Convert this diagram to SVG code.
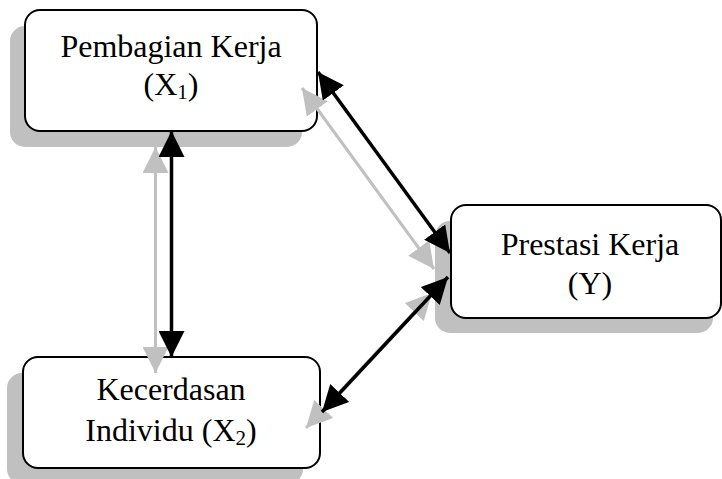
<svg xmlns="http://www.w3.org/2000/svg" width="722" height="479" viewBox="0 0 722 479">
<defs>
<style>
.shadow{fill:#c0c0c0;stroke:none}
.box{fill:#ffffff;stroke:#000000;stroke-width:2}
.lbl{font-family:"Liberation Serif","Times New Roman",serif;font-size:32px;fill:#000000;text-anchor:middle}
.sub{font-size:21px}
.blk{stroke:#000000;stroke-width:3.5;fill:none;marker-start:url(#hb);marker-end:url(#hb)}
.gry{stroke:#c0c0c0;stroke-width:3;fill:none;marker-start:url(#hg);marker-end:url(#hg)}
</style>
<marker id="hb" markerUnits="userSpaceOnUse" viewBox="0 0 26 26" refX="26" refY="13" markerWidth="26" markerHeight="26" orient="auto-start-reverse">
<path d="M0,0 L26,13 L0,26 Z" fill="#000000"/>
</marker>
<marker id="hg" markerUnits="userSpaceOnUse" viewBox="0 0 26 26" refX="26" refY="13" markerWidth="26" markerHeight="26" orient="auto-start-reverse">
<path d="M0,0 L26,13 L0,26 Z" fill="#c0c0c0"/>
</marker>
</defs>
<g id="node-x1">
<rect class="shadow" x="10" y="26" width="292" height="121" rx="15"/>
<rect class="box" x="25" y="10" width="292" height="121" rx="15"/>
<text class="lbl" x="171" y="57">Pembagian Kerja</text>
<text class="lbl" x="171" y="95">(X<tspan class="sub" dy="4">1</tspan><tspan dy="-4">)</tspan></text>
</g>
<g id="node-x2">
<rect class="shadow" x="7" y="373" width="296" height="111" rx="15"/>
<rect class="box" x="23" y="357" width="297" height="111" rx="15"/>
<text class="lbl" x="171" y="400">Kecerdasan</text>
<text class="lbl" x="171" y="441">Individu (X<tspan class="sub" dy="4">2</tspan><tspan dy="-4">)</tspan></text>
</g>
<g id="node-y">
<rect class="shadow" x="435" y="221" width="278" height="112" rx="15"/>
<rect class="box" x="451" y="205" width="270" height="113" rx="15"/>
<text class="lbl" x="590" y="255">Prestasi Kerja</text>
<text class="lbl" x="590" y="294">(Y)</text>
</g>
<g id="connectors">
<line class="gry" x1="155.5" y1="147" x2="155.5" y2="373"/>
<line class="gry" x1="302" y1="88" x2="434" y2="269"/>
<line class="gry" x1="432" y1="293" x2="306" y2="428"/>
<line class="blk" x1="171.5" y1="131" x2="171.5" y2="357"/>
<line class="blk" x1="318" y1="72" x2="450" y2="253"/>
<line class="blk" x1="448" y1="277" x2="322" y2="412"/>
</g>
</svg>
